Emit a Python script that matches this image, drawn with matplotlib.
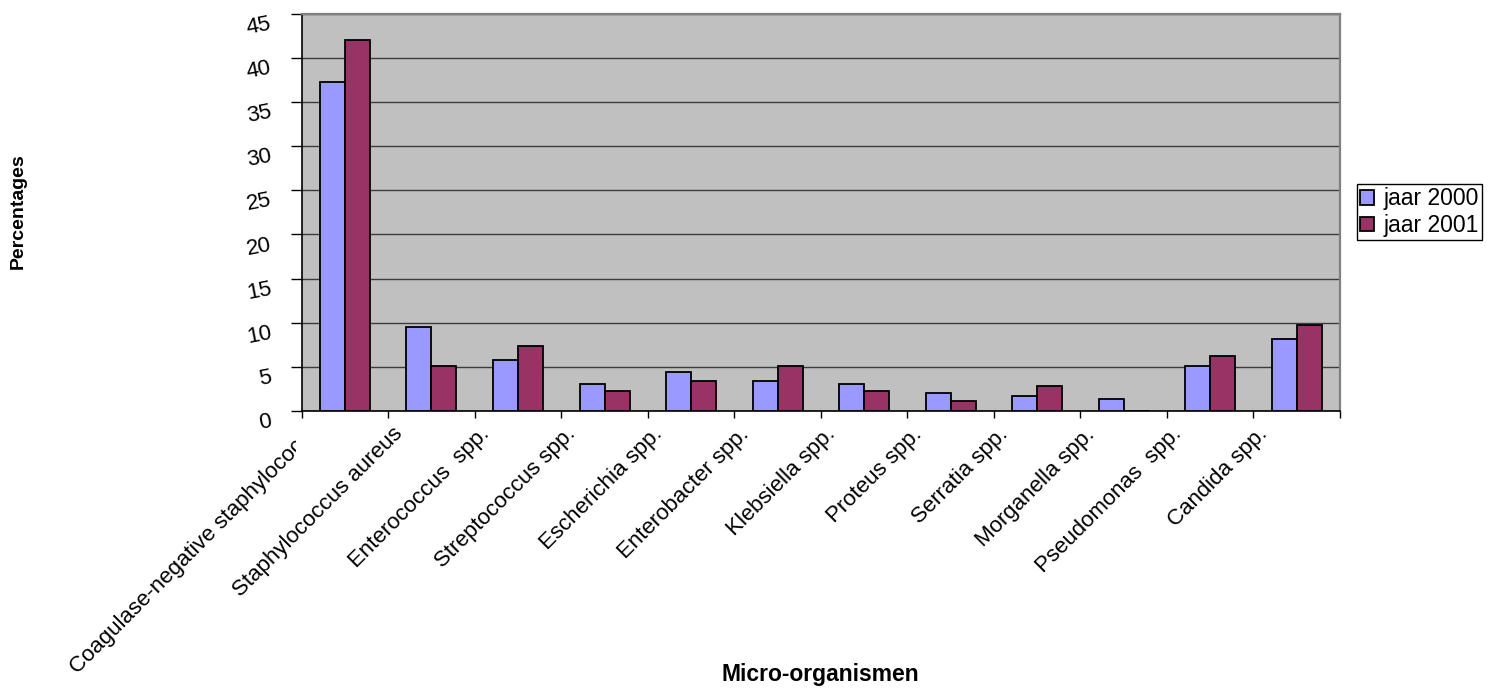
import matplotlib
matplotlib.use("Agg")
import matplotlib.pyplot as plt
import numpy as np
from matplotlib.transforms import ScaledTranslation, Bbox, TransformedBbox

# Micro-organisms and their share (%) per year
organisms = [
    "Coagulase-negative staphylococci",
    "Staphylococcus aureus",
    "Enterococcus  spp.",
    "Streptococcus spp.",
    "Escherichia spp.",
    "Enterobacter spp.",
    "Klebsiella spp.",
    "Proteus spp.",
    "Serratia spp.",
    "Morganella spp.",
    "Pseudomonas  spp.",
    "Candida spp.",
]
jaar_2000 = [37.3, 9.5, 5.8, 3.1, 4.4, 3.4, 3.1, 2.0, 1.7, 1.4, 5.1, 8.2]
jaar_2001 = [42.0, 5.1, 7.4, 2.3, 3.4, 5.1, 2.3, 1.1, 2.8, 0.0, 6.2, 9.7]
series_names = ["jaar 2000", "jaar 2001"]
y_ticks = [0, 5, 10, 15, 20, 25, 30, 35, 40, 45]

plt.rcParams["font.family"] = ["Liberation Sans", "DejaVu Sans"]

W, H = 1494, 688
fig = plt.figure(figsize=(W / 100, H / 100), dpi=100)
ax = fig.add_axes([301.7 / W, 1 - 411 / H, 1038.3 / W, 397.3 / H])
ax.set_facecolor("#C0C0C0")

x = np.arange(len(organisms))
bw = 0.289
ax.bar(x - bw / 2, jaar_2000, bw, color="#9999FF", edgecolor="black",
       linewidth=1.3, label=series_names[0], zorder=3)
ax.bar(x + bw / 2, jaar_2001, bw, color="#993366", edgecolor="black",
       linewidth=1.3, label=series_names[1], zorder=3)

ax.set_xlim(-0.5, len(organisms) - 0.5)
ax.set_ylim(0, 45)

# horizontal gridlines
ax.set_yticks(y_ticks)
ax.yaxis.grid(True, color="#3c3c3c", linewidth=1.0)
ax.set_axisbelow(True)

for side in ("left", "bottom"):
    ax.spines[side].set_color("black")
    ax.spines[side].set_linewidth(1.2)
for side in ("top", "right"):
    ax.spines[side].set_color("#808080")
    ax.spines[side].set_linewidth(1.6)

# y tick labels, slightly tilted
ax.tick_params(axis="y", direction="out", length=8, width=1, color="black",
               labelsize=16, pad=14)
ydown = ScaledTranslation(0, -10 / 100, fig.dpi_scale_trans)
for lab in ax.get_yticklabels():
    lab.set_rotation(11)
    lab.set_rotation_mode("anchor")
    lab.set_ha("right")
    lab.set_va("center")
    lab.set_transform(lab.get_transform() + ydown)

# category boundaries carry the tick marks, centres carry the labels
ax.set_xticks(np.arange(len(organisms) + 1) - 0.5)
ax.set_xticklabels([])
ax.tick_params(axis="x", which="major", direction="out", length=5, width=1,
               color="black")
ax.set_xticks(x, organisms, minor=True)
ax.tick_params(axis="x", which="minor", length=0, pad=0, labelsize=16)
shift = ScaledTranslation(-32 / 100, -20 / 100, fig.dpi_scale_trans)
clip = TransformedBbox(Bbox([[0, 0], [296 / W, 1]]), fig.transFigure)
for i, lab in enumerate(ax.get_xticklabels(minor=True)):
    lab.set_rotation(45)
    lab.set_rotation_mode("anchor")
    lab.set_ha("right")
    lab.set_va("center")
    lab.set_transform(lab.get_transform() + shift)
    if i == 0:
        lab.set_clip_box(clip)
        lab.set_clip_on(True)

fig.text(18 / W, 1 - 211 / H, "Percentages", rotation=90, ha="center",
         va="center", fontsize=14, fontweight="bold")
fig.text(820 / W, 1 - 675 / H, "Micro-organismen", ha="center", va="center",
         fontsize=16.5, fontweight="bold")

leg = ax.legend(loc="upper left", bbox_to_anchor=(1357 / W, 1 - 184 / H),
                bbox_transform=fig.transFigure, fontsize=16.5, frameon=True,
                fancybox=False, shadow=False, framealpha=1,
                edgecolor="black", handlelength=0.6, handleheight=0.6,
                handletextpad=0.4, labelspacing=0.15, borderpad=0.15,
                borderaxespad=0)
leg.get_frame().set_linewidth(1.0)

fig.savefig("out.png", dpi=100)
